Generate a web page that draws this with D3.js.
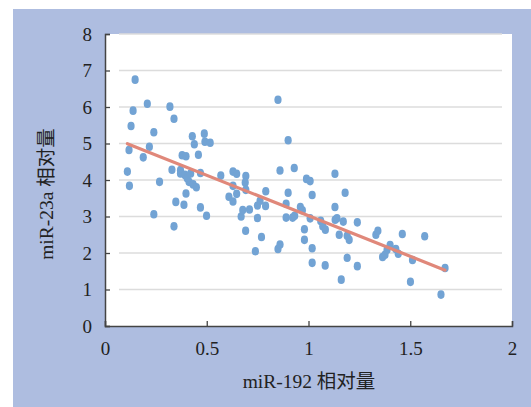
<!DOCTYPE html>
<html>
<head>
<meta charset="utf-8">
<script src="https://cdn.jsdelivr.net/npm/d3@7"></script>
<style>
  body { margin: 0; background: #fff; }
  svg { display: block; }
</style>
</head>
<body>
<div id="chart"></div>
<script>
// miR-192 (x) vs miR-23a (y)
var mir192 = [
  0.148, 0.138, 0.128, 0.208, 0.240, 0.218, 0.118, 0.110, 0.120, 0.188,
  0.240, 0.268, 0.319, 0.339, 0.329, 0.348, 0.339, 0.388, 0.398, 0.379,
  0.398, 0.371, 0.371, 0.393, 0.404, 0.421, 0.413, 0.433, 0.449, 0.429,
  0.439, 0.459, 0.469, 0.469, 0.488, 0.491, 0.517, 0.499, 0.569, 0.609,
  0.629, 0.647, 0.629, 0.629, 0.647, 0.669, 0.677, 0.710, 0.692, 0.689,
  0.692, 0.691, 0.749, 0.749, 0.762, 0.769, 0.739, 0.790, 0.789, 0.850,
  0.860, 0.900, 0.900, 0.890, 0.890, 0.930, 0.922, 0.932, 0.960, 0.970,
  0.850, 0.860, 0.980, 0.980, 0.990, 1.008, 1.018, 1.008, 1.018, 1.018,
  1.060, 1.070, 1.083, 1.082, 1.130, 1.130, 1.131, 1.140, 1.151, 1.161,
  1.171, 1.180, 1.190, 1.200, 1.190, 1.240, 1.240, 1.331, 1.341, 1.364,
  1.376, 1.386, 1.401, 1.429, 1.441, 1.461, 1.511, 1.501, 1.571, 1.651,
  1.671
];
var mir23a = [
  6.75, 5.90, 5.48, 6.09, 5.31, 4.91, 4.82, 4.23, 3.84, 4.62,
  3.06, 3.95, 6.01, 5.68, 4.28, 3.40, 2.73, 3.32, 3.63, 4.68,
  4.65, 4.27, 4.18, 4.14, 4.05, 4.18, 3.95, 3.88, 3.80, 5.20,
  4.98, 4.69, 4.19, 3.25, 5.27, 5.05, 5.02, 3.02, 4.12, 3.54,
  4.23, 4.17, 3.84, 3.41, 3.62, 3.00, 3.18, 3.19, 4.11, 3.93,
  3.73, 2.61, 2.96, 3.30, 3.43, 2.44, 2.05, 3.69, 3.29, 6.20,
  4.26, 5.09, 3.65, 3.35, 2.97, 4.33, 2.97, 3.02, 3.26, 3.17,
  2.11, 2.23, 2.65, 2.36, 4.03, 3.97, 3.59, 2.95, 2.13, 1.73,
  2.88, 2.73, 2.64, 1.66, 4.17, 3.26, 2.91, 2.95, 2.50, 1.27,
  2.86, 3.65, 2.47, 2.36, 1.87, 2.84, 1.64, 2.50, 2.61, 1.89,
  1.95, 2.09, 2.22, 2.11, 1.98, 2.52, 1.81, 1.21, 2.46, 0.86,
  1.59
];
// linear trend line as drawn
var trendSlope = -2.22;
var trendIntercept = 5.24;

var xTicks = [0, 0.5, 1, 1.5, 2];
var yTicks = [0, 1, 2, 3, 4, 5, 6, 7, 8];
var xTitle = "miR-192 相对量";
var yTitle = "miR-23a 相对量";

var drawChart = function () {
    var W = 531, H = 407;
    var plotLeft = 105, plotRight = 512, plotTop = 34, plotBottom = 326;
    var font = "'Liberation Serif', 'Times New Roman', 'Noto Sans CJK SC', serif";

    var svg = d3.select('#chart').append('svg')
        .attr('width', W)
        .attr('height', H);

    // lavender panel
    svg.append('rect')
        .attr('x', 13).attr('y', 9)
        .attr('width', W - 13).attr('height', H - 9)
        .attr('fill', '#aebde0');

    // white plot area
    svg.append('rect')
        .attr('x', plotLeft).attr('y', plotTop)
        .attr('width', plotRight - plotLeft).attr('height', plotBottom - plotTop)
        .attr('fill', '#fff');

    var x = d3.scaleLinear().domain([0, 2]).range([plotLeft, plotRight]);
    var y = d3.scaleLinear().domain([0, 8]).range([plotBottom, plotTop]);

    // gridlines
    svg.append('g').selectAll('line')
        .data(yTicks.filter(function (d) { return d > 0; }))
        .enter().append('line')
        .attr('x1', plotLeft + 14).attr('x2', plotRight - 10)
        .attr('y1', function (d) { return y(d); })
        .attr('y2', function (d) { return y(d); })
        .attr('stroke', '#dcdcdc')
        .attr('stroke-width', 1.3);

    // axes
    var yAxis = svg.append('g')
        .attr('transform', 'translate(' + plotLeft + ',0)')
        .call(d3.axisLeft(y).tickValues(yTicks).tickSize(-5).tickPadding(13).tickFormat(d3.format('d')));
    var xAxis = svg.append('g')
        .attr('transform', 'translate(0,' + plotBottom + ')')
        .call(d3.axisBottom(x).tickValues(xTicks).tickSize(-5).tickPadding(16).tickFormat(function (d) { return String(d); }));

    [xAxis, yAxis].forEach(function (a) {
        a.select('.domain').attr('stroke', '#444').attr('stroke-width', 1.5);
        a.selectAll('.tick line').attr('stroke', '#444').attr('stroke-width', 1.3);
        a.selectAll('text')
            .attr('fill', '#222')
            .style('font-family', font)
            .style('font-size', '19px');
    });

    // points
    svg.append('g').selectAll('ellipse')
        .data(mir192.map(function (v, i) { return [v, mir23a[i]]; }))
        .enter().append('ellipse')
        .attr('cx', function (d) { return x(d[0]); })
        .attr('cy', function (d) { return y(d[1]); })
        .attr('rx', 3.6)
        .attr('ry', 4.3)
        .attr('fill', '#72a3d4');

    // trend line
    var xs = d3.extent(mir192);
    svg.append('line')
        .attr('x1', x(xs[0])).attr('y1', y(trendIntercept + trendSlope * xs[0]))
        .attr('x2', x(xs[1])).attr('y2', y(trendIntercept + trendSlope * xs[1]))
        .attr('stroke', '#e0887a')
        .attr('stroke-width', 3.2)
        .attr('stroke-linecap', 'round');

    // titles
    svg.append('text')
        .attr('x', 309).attr('y', 388)
        .attr('text-anchor', 'middle')
        .attr('fill', '#222')
        .style('font-family', font)
        .style('font-size', '19.5px')
        .text(xTitle);

    svg.append('text')
        .attr('transform', 'translate(53,194) rotate(-90)')
        .attr('text-anchor', 'middle')
        .attr('fill', '#222')
        .style('font-family', font)
        .style('font-size', '19.5px')
        .text(yTitle);
};

drawChart();
</script>
</body>
</html>
